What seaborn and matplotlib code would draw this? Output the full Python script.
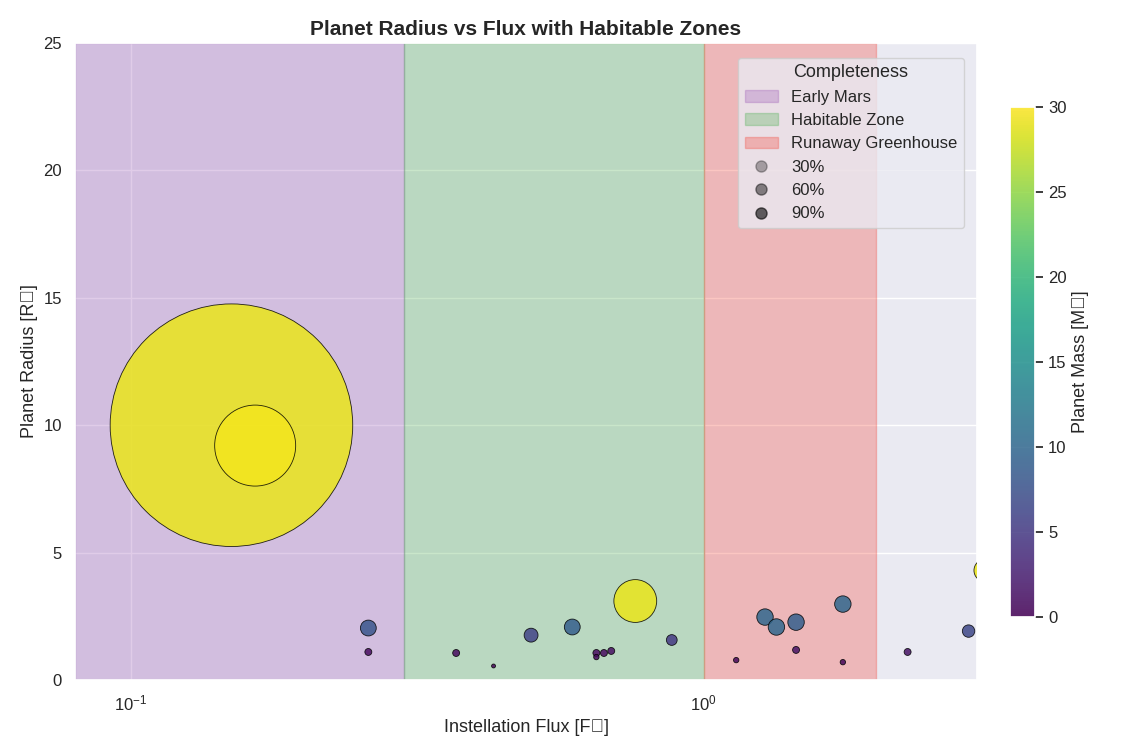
import numpy as np
import matplotlib
matplotlib.use("Agg")
import matplotlib.pyplot as plt
import matplotlib.patches as mpatches
from matplotlib.lines import Line2D
import seaborn as sns

# planet data
flux = [0.15, 0.165, 0.26, 0.26, 0.37, 0.43, 0.50, 0.59, 0.65, 0.65, 0.67, 0.69,
        0.76, 0.88, 1.14, 1.28, 1.34, 1.45, 1.45, 1.75, 1.75, 2.27, 2.9, 3.1]
radius = [10.0, 9.2, 2.04, 1.1, 1.06, 0.55, 1.76, 2.08, 1.06, 0.9, 1.06, 1.14,
          3.1, 1.57, 0.78, 2.47, 2.08, 2.27, 1.18, 2.98, 0.7, 1.1, 1.92, 4.3]
mass = [29, 29.5, 8, 1, 1, 0.5, 6, 9, 1, 0.8, 1, 1.2,
        29, 5, 0.5, 10, 10, 9, 1.5, 10, 0.5, 1.5, 6.5, 29]
marker_size = [30500, 3400, 130, 25, 25, 8, 100, 130, 25, 15, 25, 25,
               950, 60, 15, 140, 140, 140, 25, 140, 15, 25, 80, 260]

zones = [("Early Mars", 0.08, 0.30, "#9b59b6"),
         ("Habitable Zone", 0.30, 1.0, "#4caf50"),
         ("Runaway Greenhouse", 1.0, 2.0, "#f44336")]

sns.set_theme(style="darkgrid", font="Liberation Sans")
W, H = 1123, 756
fig = plt.figure(figsize=(W / 100, H / 100), dpi=100)
ax = fig.add_axes([75 / W, 1 - 680 / H, (977 - 75) / W, (680 - 43) / H])
cax = fig.add_axes([1010 / W, 1 - 617 / H, 25 / W, (617 - 107) / H])

for name, lo, hi, c in zones:
    ax.axvspan(lo, hi, color=c, alpha=0.3)

sc = ax.scatter(flux, radius, s=marker_size, c=mass, cmap="viridis", vmin=0, vmax=30,
                alpha=0.85, edgecolor="black", linewidth=0.6, zorder=3)

ax.set_xscale("log")
ax.set_xlim(0.08, 3.0)
ax.set_ylim(0, 25)
ax.tick_params(labelsize=12)
ax.set_xlabel("Instellation Flux [F⊕]", fontsize=13)
ax.set_ylabel("Planet Radius [R⊕]", fontsize=13)
ax.set_title("Planet Radius vs Flux with Habitable Zones", fontsize=15, fontweight="bold")

cb = fig.colorbar(sc, cax=cax)
cb.set_label("Planet Mass [M⊕]", fontsize=13)
cb.ax.tick_params(labelsize=12)

handles = [mpatches.Patch(color=c, alpha=0.3, label=n) for n, lo, hi, c in zones]
for pct, a in [("30%", 0.3), ("60%", 0.45), ("90%", 0.6)]:
    handles.append(Line2D([], [], marker="o", linestyle="", color="black", alpha=a,
                          markersize=8, label=pct))
ax.legend(handles=handles, title="Completeness", loc="upper right", frameon=True,
          fontsize=12, title_fontsize=13, bbox_to_anchor=(0.995, 0.99))

plt.savefig("out.png", dpi=100)
